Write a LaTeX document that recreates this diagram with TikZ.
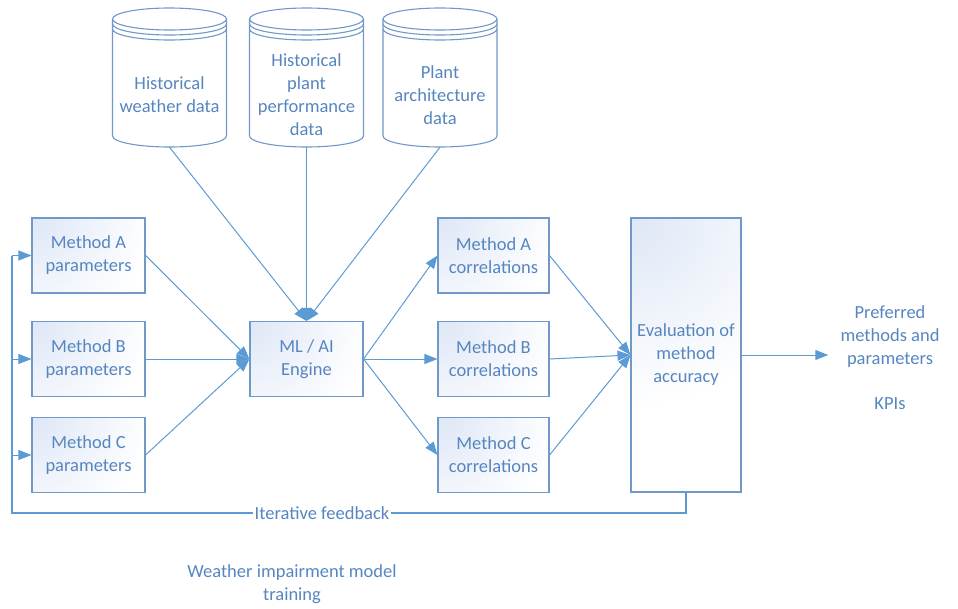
\documentclass[tikz,border=0pt]{standalone}
\usepackage{fontspec}
\setmainfont{Carlito}
\usetikzlibrary{arrows.meta}
\definecolor{txt}{RGB}{86,134,192}
\definecolor{edge}{RGB}{91,155,213}
\definecolor{frame}{RGB}{112,152,200}
\definecolor{tint}{RGB}{222,231,246}

% data store drawn as a cylinder with two rings under its lid
\newcommand\datastore[3]{%
  \fill[white] (#2-57,19) -- (#2-57,136) arc[start angle=180,end angle=0,x radius=57,y radius=11] -- (#2+57,19) -- cycle;
  \draw[outline] (#2-57,19) -- (#2-57,136) arc[start angle=180,end angle=0,x radius=57,y radius=11] -- (#2+57,19);
  \draw[outline] (#2,19) ellipse[x radius=57,y radius=11];
  \draw[outline] (#2-57,24) arc[start angle=180,end angle=0,x radius=57,y radius=11];
  \draw[outline] (#2-57,29) arc[start angle=180,end angle=0,x radius=57,y radius=11];
  \node[inner sep=0, minimum width=114, minimum height=139] (#1) at (#2,77.5) {};
  \node[plain] (#1-label) at (#2,95) {#3};
}

\begin{document}
\begin{tikzpicture}[x=1pt,y=-1pt,
  font=\fontsize{18.5}{23}\selectfont,
  outline/.style={draw=frame, line width=1.1pt},
  glow/.style={path picture={
      \fill[white] (path picture bounding box.south west) rectangle (path picture bounding box.north east);
      \shade[inner color=tint, outer color=white]
        (path picture bounding box.north west) circle (#1);}},
  glow/.default=120pt,
  box/.style={draw=frame, line width=1.1pt, glow, align=center, minimum width=113,
    minimum height=75, inner sep=0, text=txt},
  link/.style={draw=edge, line width=1pt, -{Triangle[length=13pt,width=10pt]}},
  wire/.style={draw=edge, line width=1.2pt},
  plain/.style={align=center, text=txt, inner sep=1pt}]

\useasboundingbox (0,0) rectangle (958,608);

% data sources
\datastore{dbw}{169.5}{Historical\\weather data}
\datastore{dbp}{306.5}{Historical\\plant\\performance\\data}
\datastore{dba}{440}{Plant\\architecture\\data}

% method parameter sets
\node[box] (pa) at (88.5,255.5) {Method A\\parameters};
\node[box] (pb) at (88.5,359) {Method B\\parameters};
\node[box] (pc) at (88.5,455) {Method C\\parameters};

% engine
\node[box] (eng) at (306.5,359) {ML / AI\\Engine};

% correlations
\node[box, minimum width=111] (ca) at (493.5,255.5) {Method A\\correlations};
\node[box, minimum width=111] (cb) at (493.5,359) {Method B\\correlations};
\node[box, minimum width=111] (cc) at (493.5,455) {Method C\\correlations};

% evaluation
\node[box, glow=190pt, minimum width=110, minimum height=274] (ev) at (686,355) {Evaluation of\\method\\accuracy};

% results
\node[plain] (out) at (890,337) {Preferred\\methods and\\parameters};
\node[plain] (kpi) at (890,404) {KPIs};

% data into the engine
\draw[link] (dbw.south) -- (eng.north);
\draw[link] (dbp.south) -- (eng.north);
\draw[link] (dba.south) -- (eng.north);

% parameters into the engine
\draw[link] (pa.east) -- (eng.west);
\draw[link] (pb.east) -- (eng.west);
\draw[link] (pc.east) -- (eng.west);

% engine to correlations
\draw[link] (eng.east) -- (ca.west);
\draw[link] (eng.east) -- (cb.west);
\draw[link] (eng.east) -- (cc.west);

% correlations to evaluation
\draw[link] (ca.east) -- (ev.west);
\draw[link] (cb.east) -- (ev.west);
\draw[link] (cc.east) -- (ev.west);

% evaluation output
\draw[link, shorten >=11pt] (ev.east) -- (ev.east -| out.west);

% feedback loop
\coordinate (fb) at (12,513);
\draw[wire] (ev.south) |- (fb) -- (fb |- pa.west);
\draw[link] (fb |- pa.west) -- (pa.west);
\draw[link] (fb |- pb.west) -- (pb.west);
\draw[link] (fb |- pc.west) -- (pc.west);
\node[plain, fill=white, inner sep=2pt] (fbl) at (322,513) {Iterative feedback};

% caption
\node[plain] (cap) at (292,584) {Weather impairment model\\training};
\end{tikzpicture}
\end{document}
